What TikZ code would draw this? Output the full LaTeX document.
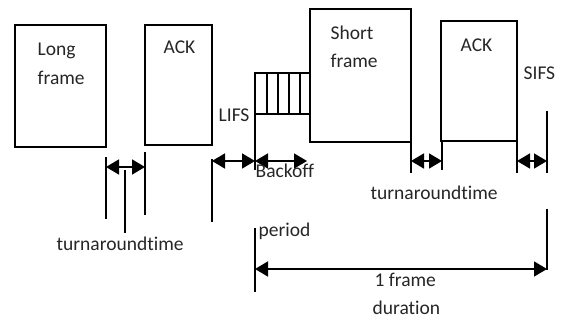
\documentclass[tikz,border=0pt]{standalone}
\usepackage{fontspec}
\setmainfont{Carlito}[Ligatures=NoCommon]
\usetikzlibrary{arrows.meta}
\begin{document}
\begin{tikzpicture}[x=1pt,y=-1pt,line width=1.3pt,
  box/.style={draw,anchor=north west,inner sep=0pt,outer sep=0pt},
  lbl/.style={anchor=base west,inner sep=0pt,text=black!85,font=\fontsize{19.5}{23}\selectfont},
  dim/.style={{Triangle[length=13pt,width=15pt]}-{Triangle[length=13pt,width=15pt]},line width=1.6pt}]
    \useasboundingbox(0,0) rectangle(563,320);
    % frames
    \node[box,minimum width=91pt,minimum height=122pt](lf) at(15,25){};
    \node[box,minimum width=67pt,minimum height=120pt](ack1) at(145,25){};
    \node[box,minimum width=101pt,minimum height=133pt](sf) at(310,9){};
    \node[box,minimum width=76pt,minimum height=120pt](ack2) at(441,21){};
    \node[lbl](tlf1) at(37,56){Long};
    \node[lbl](tlf2) at(37,85){frame};
    \node[lbl](tack1) at(163,54){ACK};
    \node[lbl](tsf1) at(330,40){Short};
    \node[lbl](tsf2) at(330,68){frame};
    \node[lbl](tack2) at(460,52){ACK};
    % backoff slots
    \draw(255,73) rectangle(310,114);
    \foreach \x in {267,278,289,300}
        \draw(\x,73)--(\x,114);
    \draw(255,114)--(255,170);
    % ticks
    \draw(106,157)--(106,219);
    \draw(125,170)--(125,233);
    \draw(145,152)--(145,215);
    \draw(212,159)--(212,222);
    \draw(411,110)--(411,173);
    \draw(442,141)--(442,170);
    \draw(517,113)--(517,173);
    \draw(547,111)--(547,173);
    \draw(255,228)--(255,292);
    \draw(547,209)--(547,270);
    % intervals
    \coordinate(ta) at(106,167);
    \coordinate(tb) at(145,167);
    \coordinate(la) at(212,161);
    \coordinate(lb) at(255,161);
    \coordinate(ba) at(255,161);
    \coordinate(bb) at(307,161);
    \coordinate(sa) at(411,161);
    \coordinate(sb) at(442,161);
    \coordinate(fa) at(517,161);
    \coordinate(fb) at(547,161);
    \coordinate(da) at(255,269);
    \coordinate(db) at(547,269);
    \draw[dim](ta)--(tb);
    \draw[dim](la)--(lb);
    \draw[dim](ba)--(bb);
    \draw[dim](sa)--(sb);
    \draw[dim](fa)--(fb);
    \draw[dim](da)--(db);
    \node[lbl](turn1) at(56,251){turnaroundtime};
    \node[lbl](lifs) at(218,122){LIFS};
    \node[lbl](back) at(255,178){Backoff};
    \node[lbl](per) at(258,237){period};
    \node[lbl](turn2) at(370,200){turnaroundtime};
    \node[lbl](sifs) at(523,80){SIFS};
    \node[lbl](dur1) at(374,287){1 frame};
    \node[lbl](dur2) at(372,315){duration};
\end{tikzpicture}
\end{document}
